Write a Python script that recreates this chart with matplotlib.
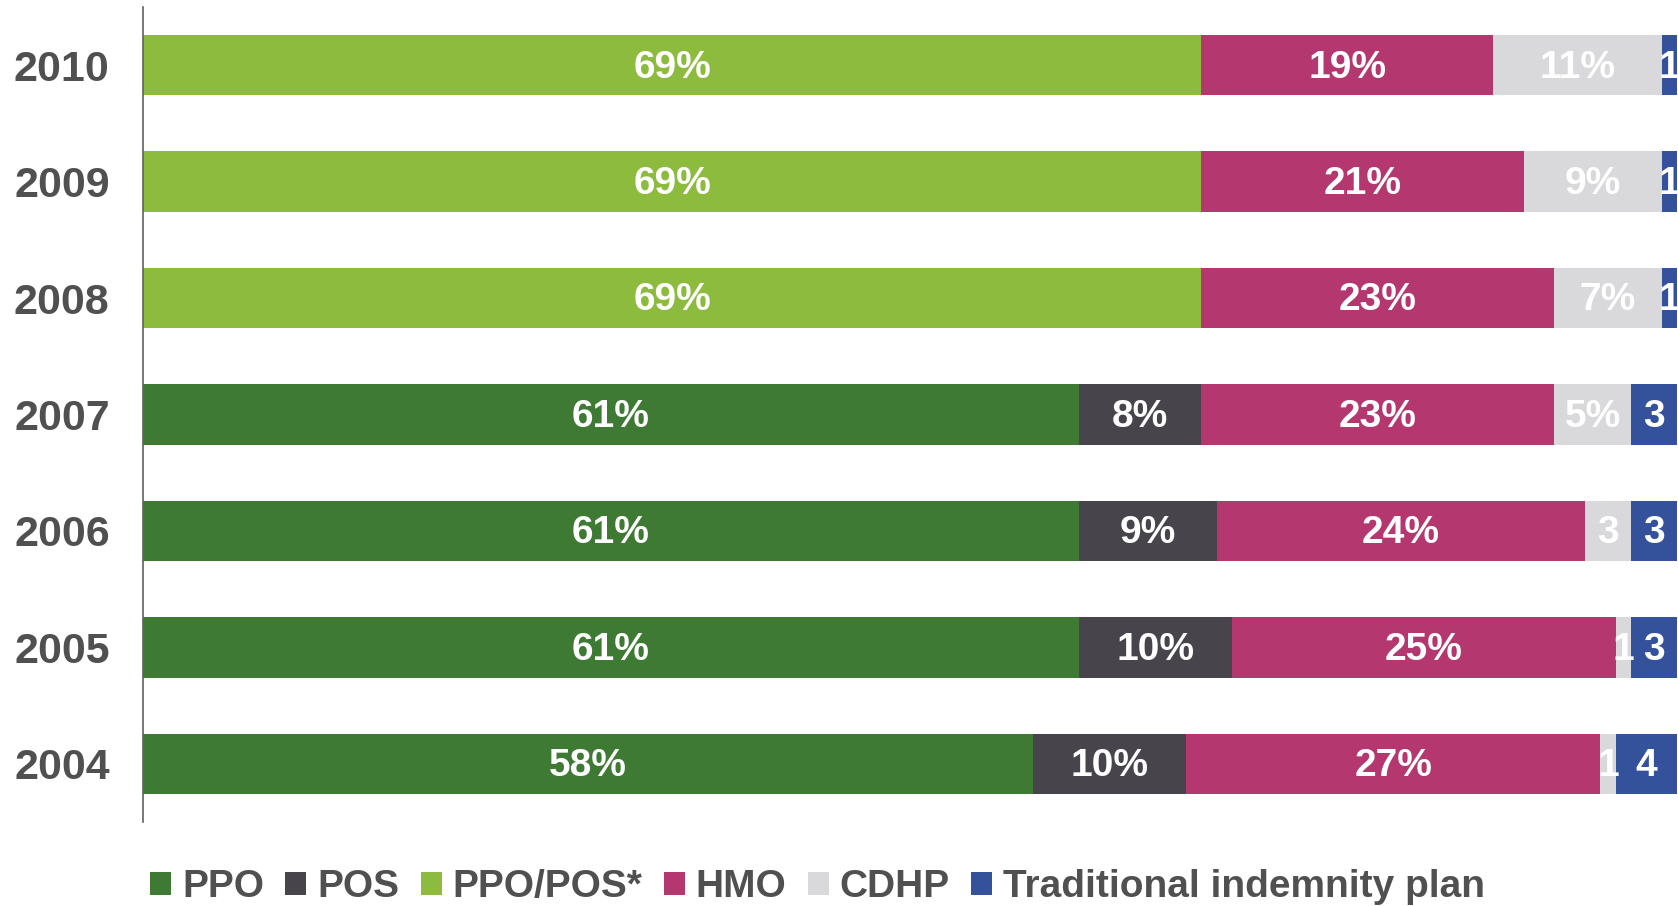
import matplotlib
matplotlib.use("Agg")
import matplotlib.pyplot as plt
import numpy as np

plt.rcParams['font.family'] = ['Liberation Sans', 'DejaVu Sans']

years = ['2004', '2005', '2006', '2007', '2008', '2009', '2010']
series = ['PPO', 'POS', 'PPO/POS*', 'HMO', 'CDHP', 'Traditional indemnity plan']
ppo = [58, 61, 61, 61, 0, 0, 0]
pos = [10, 10, 9, 8, 0, 0, 0]
ppo_pos = [0, 0, 0, 0, 69, 69, 69]
hmo = [27, 25, 24, 23, 23, 21, 19]
cdhp = [1, 1, 3, 5, 7, 9, 11]
trad = [4, 3, 3, 3, 1, 1, 1]
colors = ['#3e7a33', '#47454b', '#8cbb3d', '#b4386f', '#d9d9db', '#34519b']

fig = plt.figure(figsize=(16.78, 9.06), dpi=100)
ax = fig.add_axes([0.0852, 0.0927, 0.9142, 0.8996])

y = np.arange(len(years))
left = np.zeros(len(years))
for name, vals, c in zip(series, [ppo, pos, ppo_pos, hmo, cdhp, trad], colors):
    vals = np.array(vals)
    ax.barh(y, vals, left=left, height=0.52, color=c, label=name)
    for yi, v, l in zip(y, vals, left):
        if v == 0:
            continue
        # small segments only show the number
        txt = f"{v}%" if v >= 5 else f"{v}"
        ax.text(l + v / 2, yi - 0.02, txt, ha='center', va='center', color='white',
                fontsize=28, fontweight='bold')
    left += vals

ax.set_xlim(0, 100)
ax.set_ylim(-0.5, 6.5)
ax.set_yticks(y)
ax.set_yticklabels(years, fontsize=31, fontweight='bold', color='#505050')
ax.tick_params(axis='y', length=0, pad=24)
ax.set_xticks([])
for s in ['top', 'right', 'bottom']:
    ax.spines[s].set_visible(False)
ax.spines['left'].set_color('#606060')
ax.spines['left'].set_linewidth(1.2)

fig.legend(loc='center left', bbox_to_anchor=(0.0894, 1 - 887 / 906), ncol=6,
           frameon=False, prop={'size': 28, 'weight': 'bold'},
           handlelength=0.54, handleheight=0.54,
           handletextpad=0.28, columnspacing=0.55, borderpad=0, borderaxespad=0,
           labelcolor='#505050')

fig.savefig('out.png', dpi=100)
